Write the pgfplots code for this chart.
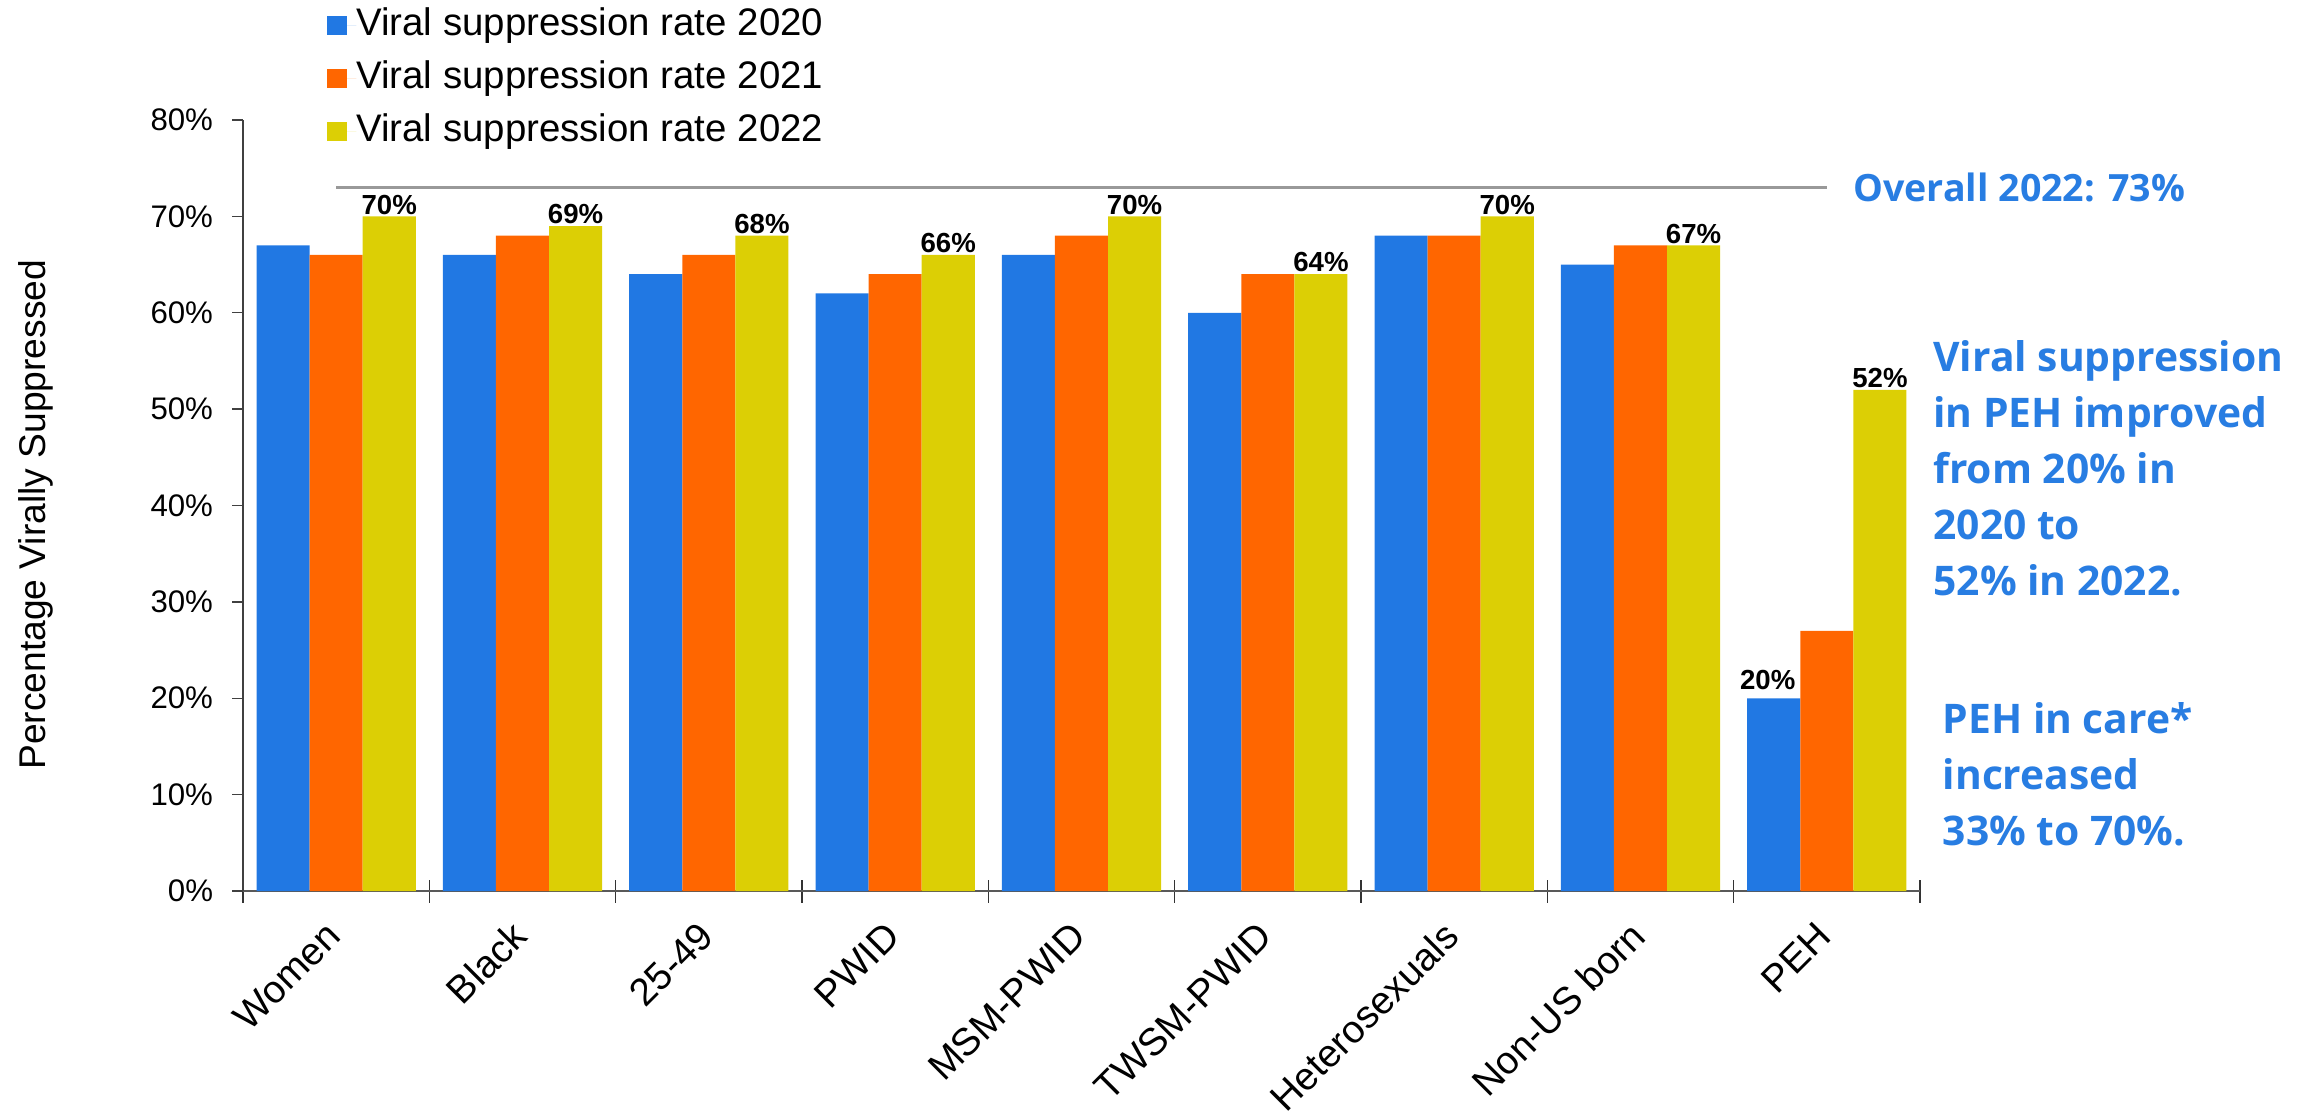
\documentclass[border=0pt]{standalone}
\usepackage{pgfplots}
\pgfplotsset{compat=1.18}
\usepackage{fontspec}
\setmainfont{Liberation Sans}
\newfontfamily\annofont{Open Sans}
\definecolor{cblue}{RGB}{33,120,227}
\definecolor{corange}{RGB}{255,102,0}
\definecolor{cyellow}{RGB}{220,207,5}
\definecolor{cgray}{RGB}{153,153,153}
\definecolor{annoblue}{RGB}{40,125,226}
\begin{document}
\begin{tikzpicture}
\useasboundingbox (-121.5pt,-111.5pt) rectangle (1040pt,445.5pt);
\begin{axis}[
  scale only axis, width=838.5pt, height=385.5pt,
  at={(0pt,0pt)}, anchor=south west,
  xmin=-0.5, xmax=8.5, ymin=0, ymax=80,
  axis x line*=bottom, axis y line*=left,
  x axis line style={draw=black!65, line width=1.2pt},
  y axis line style={draw=black!75, line width=0.7pt},
  ybar, bar width=0.285,
  clip=false,
  ytick={0,10,...,80},
  yticklabel={\pgfmathprintnumber{\tick}\%},
  /pgf/number format/assume math mode=true,
  ytick align=outside, major tick length=5.3pt,
  ytick style={draw=black!75, line width=0.7pt},
  yticklabel style={font=\fontsize{15.6}{19}\selectfont, inner sep=0pt, xshift=-9.5pt},
  xtick={0,...,8},
  xticklabels={Women,Black,25-49,PWID,MSM-PWID,TWSM-PWID,Heterosexuals,Non-US born,PEH},
  major x tick style={draw=none},
  minor xtick={-0.5,0.5,...,8.5},
  xtick align=center, minor tick length=11.5pt,
  minor x tick style={draw=black!80, line width=0.7pt},
  xticklabel style={font=\fontsize{19.3}{23}\selectfont, rotate=45, anchor=east, inner sep=0pt, xshift=-12.5pt, yshift=-10.8pt},
  ylabel={Percentage Virally Suppressed},
  ylabel style={font=\fontsize{18.6}{22}\selectfont, at={(rel axis cs:-0.1235,0.488)}, anchor=center, rotate=0},
  legend style={at={(rel axis cs:0.0501,1.054)}, anchor=west, draw=none, fill=none,
    inner sep=0pt, font=\fontsize{19.2}{23}\selectfont, row sep=8.6pt,
    nodes={inner sep=0pt, text height=14pt, text depth=4pt}},
  legend cell align=left,
  legend image code/.code={\fill[#1,draw=none] (0pt,-4.75pt) rectangle (9.8pt,4.75pt); \path (0pt,0pt) -- (14.5pt,0pt);},
  every node near coord/.append style={font=\bfseries\fontsize{13.8}{16}\selectfont, inner sep=0.8pt, black},
]
\addplot[fill=cblue, draw=none, bar shift=-0.285] coordinates {
(0,67) (1,66) (2,64) (3,62) (4,66) (5,60) (6,68) (7,65) (8,20)};
\addlegendentry{Viral suppression rate 2020}
\addplot[fill=corange, draw=none, bar shift=0] coordinates {
(0,66) (1,68) (2,66) (3,64) (4,68) (5,64) (6,68) (7,67) (8,27)};
\addlegendentry{Viral suppression rate 2021}
\addplot[fill=cyellow, draw=none, bar shift=0.285,
  nodes near coords={\pgfmathprintnumber{\pgfplotspointmeta}\%}] coordinates {
(0,70) (1,69) (2,68) (3,66) (4,70) (5,64) (6,70) (7,67) (8,52)};
\addlegendentry{Viral suppression rate 2022}
\addplot[fill=none, draw=none, bar shift=-0.285, forget plot,
  nodes near coords={20\%}, every node near coord/.append style={xshift=-3pt, yshift=3pt}] coordinates {(8,20)};
\addplot[sharp plot, draw=cgray, line width=1.65pt, forget plot, mark=none] coordinates {(0,73) (8,73)};
\node[anchor=west, inner sep=0pt, font=\annofont\bfseries\fontsize{18.8}{24}\selectfont, text=annoblue]
  at (axis cs:8.14,73) {Overall 2022: 73\%};
\node[anchor=north west, inner sep=0pt, align=left, font=\annofont\bfseries\fontsize{20.4}{28.1}\selectfont, text=annoblue]
  at (axis cs:8.57,57.2) {Viral suppression\\in PEH improved\\from 20\% in\\2020 to\\52\% in 2022.};
\node[anchor=north west, inner sep=0pt, align=left, font=\annofont\bfseries\fontsize{20.4}{28.1}\selectfont, text=annoblue]
  at (axis cs:8.62,19.6) {PEH in care*\\increased\\33\% to 70\%.};
\end{axis}
\end{tikzpicture}
\end{document}
